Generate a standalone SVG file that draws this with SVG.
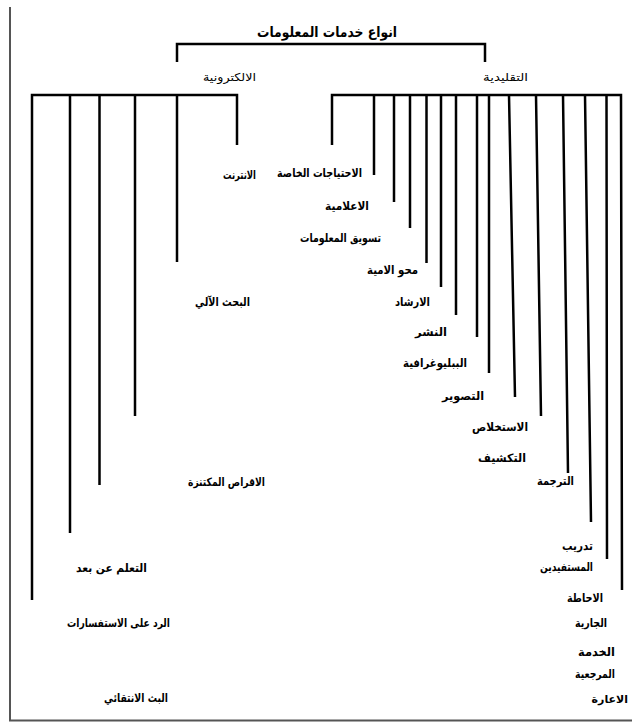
<svg xmlns="http://www.w3.org/2000/svg" width="632" height="723" viewBox="0 0 632 723">
<style>
.frame{fill:none;stroke:#555;stroke-width:2}
.ln{fill:none;stroke:#000;stroke-width:2.5;stroke-linecap:butt}
text{font-family:"DejaVu Sans",sans-serif;fill:#000;text-anchor:end}
.t{font-size:11.5px;font-weight:bold}
.h{font-size:11px}
.title{font-size:14px;font-weight:bold}
</style>
<rect width="632" height="723" fill="#fff"/>
<path class="frame" d="M10,7 V720.5 H632"/>
<g id="connectors">
<path class="ln" d="M177,62 V44 H485 V62"/>
<path class="ln" d="M32,600 V95 H237 V145"/>
<path class="ln" d="M70,95 V533 M99.5,95 V485 M135,95 V416 M177,95 V262"/>
<path class="ln" d="M332,145 V95 H621 L622,590"/>
<path class="ln" d="M374,95 V175 M394,95 V202 M410,95 V228 M426.5,95 V263 M441,95 V287 M456,95 V315 M477,95 V337 M489,95 V373 M509,95 L515,397 M536,95 L541,416 M563,95 L568,473 M585,95 L591,522 M606.5,95 L607,559"/>
</g>
<g id="root"><text class="title" x="397" y="37" textLength="140" lengthAdjust="spacingAndGlyphs">انواع خدمات المعلومات</text></g>
<g id="electronic"><text class="h" x="256" y="81" textLength="53" lengthAdjust="spacingAndGlyphs">الالكترونية</text></g>
<g id="traditional"><text class="h" x="528" y="81" textLength="45" lengthAdjust="spacingAndGlyphs">التقليدية</text></g>
<g id="internet"><text class="t" x="256" y="179" textLength="33" lengthAdjust="spacingAndGlyphs">الانترنت</text></g>
<g id="auto-search"><text class="t" x="250" y="306" textLength="55" lengthAdjust="spacingAndGlyphs">البحث الآلي</text></g>
<g id="cd"><text class="t" x="265" y="486" textLength="77" lengthAdjust="spacingAndGlyphs">الاقراص المكتنزة</text></g>
<g id="distance"><text class="t" x="147" y="572" textLength="71" lengthAdjust="spacingAndGlyphs">التعلم عن بعد</text></g>
<g id="inquiries"><text class="t" x="170" y="627" textLength="103" lengthAdjust="spacingAndGlyphs">الرد على الاستفسارات</text></g>
<g id="sdi"><text class="t" x="168" y="702" textLength="64" lengthAdjust="spacingAndGlyphs">البث الانتقائي</text></g>
<g id="special-needs"><text class="t" x="362" y="177" textLength="85" lengthAdjust="spacingAndGlyphs">الاحتياجات الخاصة</text></g>
<g id="media"><text class="t" x="369" y="210" textLength="44" lengthAdjust="spacingAndGlyphs">الاعلامية</text></g>
<g id="marketing"><text class="t" x="381" y="242" textLength="81" lengthAdjust="spacingAndGlyphs">تسويق المعلومات</text></g>
<g id="literacy"><text class="t" x="418" y="274" textLength="51" lengthAdjust="spacingAndGlyphs">محو الامية</text></g>
<g id="guidance"><text class="t" x="430" y="306" textLength="35" lengthAdjust="spacingAndGlyphs">الارشاد</text></g>
<g id="publishing"><text class="t" x="447" y="336" textLength="32" lengthAdjust="spacingAndGlyphs">النشر</text></g>
<g id="bibliography"><text class="t" x="467" y="367" textLength="64" lengthAdjust="spacingAndGlyphs">الببليوغرافية</text></g>
<g id="photocopy"><text class="t" x="484" y="400" textLength="42" lengthAdjust="spacingAndGlyphs">التصوير</text></g>
<g id="abstracting"><text class="t" x="528" y="431" textLength="56" lengthAdjust="spacingAndGlyphs">الاستخلاص</text></g>
<g id="indexing"><text class="t" x="526" y="462" textLength="48" lengthAdjust="spacingAndGlyphs">التكشيف</text></g>
<g id="translation"><text class="t" x="574" y="485" textLength="37" lengthAdjust="spacingAndGlyphs">الترجمة</text></g>
<g id="user-training"><text class="t" x="593" y="550" textLength="31" lengthAdjust="spacingAndGlyphs">تدريب</text><text class="t" x="593" y="571" textLength="53" lengthAdjust="spacingAndGlyphs">المستفيدين</text></g>
<g id="current-awareness"><text class="t" x="603" y="602" textLength="36" lengthAdjust="spacingAndGlyphs">الاحاطة</text><text class="t" x="607" y="627" textLength="32" lengthAdjust="spacingAndGlyphs">الجارية</text></g>
<g id="reference"><text class="t" x="615" y="656" textLength="37" lengthAdjust="spacingAndGlyphs">الخدمة</text><text class="t" x="615" y="678" textLength="40" lengthAdjust="spacingAndGlyphs">المرجعية</text></g>
<g id="lending"><text class="t" x="628" y="703" style="font-size:11px">الاعارة</text></g>
</svg>
